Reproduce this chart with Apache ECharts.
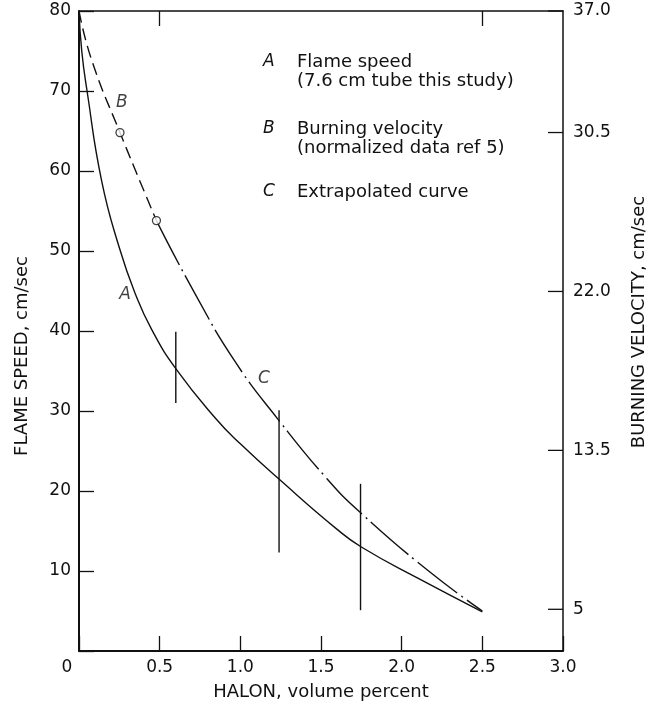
<!DOCTYPE html>
<html><head><meta charset="utf-8">
<script src="https://cdn.jsdelivr.net/npm/echarts@6/dist/echarts.min.js"></script>
<style>html,body{margin:0;padding:0;background:#fff}#c{width:650px;height:704px}</style>
</head><body><div id="c"></div>
<script>
// ---- data ----
const curveAX = [0, 0.017, 0.05, 0.14, 0.25, 0.35, 0.45, 0.6, 0.85, 1.0, 1.25, 1.6, 1.75, 2.1, 2.5];
const curveAY = [80, 75, 70, 58.8, 50.4, 44.6, 40.2, 35.3, 29.0, 25.9, 21.3, 15.2, 13.0, 9.1, 4.9];
const curveBX = [0, 0.078, 0.254, 0.48];
const curveBY = [80, 73.9, 64.8, 53.8];
const pointsBX = [0.254, 0.48];
const pointsBY = [64.8, 53.8];
const curveCX = [0.48, 0.718, 0.97, 1.24, 1.534, 1.744, 2.173, 2.5];
const curveCY = [53.8, 44.7, 36.1, 28.8, 21.6, 17.3, 9.9, 5.0];
const errX = [0.6, 1.24, 1.745];
const errLow = [31, 12.3, 5.1];
const errHigh = [39.9, 30.1, 20.9];
const rightTickValues = [5, 13.5, 22, 30.5, 37];
const rightTickLabels = ['5', '13.5', '22.0', '30.5', '37.0'];
const curveLabelNames = ['A', 'B', 'C'];
const curveLabelX = [0.285, 0.266, 1.146];
const curveLabelY = [44.5, 68.6, 34];
const legendKeys = ['A', 'B', 'C'];
const legendLines = [['Flame speed', '(7.6 cm tube this study)'], ['Burning velocity', '(normalized data ref 5)'], ['Extrapolated curve']];

const zip = (xs, ys) => xs.map((x, i) => [x, ys[i]]);
const FONT = 'DejaVu Sans';
const INK = '#111';

const chart = echarts.init(document.getElementById('c'), null, {renderer: 'canvas'});

const legendGraphics = [];
const legendKeyY = [63, 130, 193];
legendKeys.forEach((k, i) => {
  legendGraphics.push({type: 'text', left: 263, top: legendKeyY[i] - 10,
    style: {text: k, font: 'italic 17px ' + FONT, fill: INK}});
  legendLines[i].forEach((t, j) => {
    legendGraphics.push({type: 'text', left: 297, top: legendKeyY[i] - 10 + j * 19,
      style: {text: t, font: '18px ' + FONT, fill: INK}});
  });
});

const option = {
  animation: false,
  backgroundColor: '#fff',
  grid: {left: 79, right: 87, top: 11, bottom: 53, containLabel: false, outerBoundsMode: 'none'},
  xAxis: [{
    type: 'value', min: 0, max: 3, interval: 0.5, position: 'bottom',
    axisLine: {show: true, onZero: false, lineStyle: {color: INK, width: 2}},
    axisTick: {show: true, inside: true, length: 15, lineStyle: {color: INK, width: 1.3}},
    splitLine: {show: false},
    axisLabel: {margin: 8, fontSize: 17, fontFamily: FONT, color: INK,
      formatter: v => v === 0 ? '{o|0}' : v.toFixed(1),
      rich: {o: {fontSize: 17, fontFamily: FONT, color: INK, padding: [0, 24, 0, 0]}}},
    name: 'HALON, volume percent', nameLocation: 'middle', nameGap: 32, nameMoveOverlap: false,
    nameTextStyle: {fontSize: 18, fontFamily: FONT, color: INK}
  }, {
    type: 'value', min: 0, max: 3, position: 'top',
    axisLine: {show: true, onZero: false, lineStyle: {color: INK, width: 1.5}},
    axisTick: {show: true, inside: true, length: 15, customValues: [0.5, 2.5], lineStyle: {color: INK, width: 1.3}},
    axisLabel: {show: false}, splitLine: {show: false}
  }],
  yAxis: [{
    type: 'value', min: 0, max: 80, interval: 10, position: 'left',
    axisLine: {show: true, onZero: false, lineStyle: {color: INK, width: 2}},
    axisTick: {show: true, inside: true, length: 15, lineStyle: {color: INK, width: 1.3}},
    splitLine: {show: false},
    axisLabel: {margin: 8, fontSize: 17, fontFamily: FONT, color: INK, formatter: v => v === 0 ? '' : String(v)},
    name: 'FLAME SPEED, cm/sec', nameLocation: 'middle', nameGap: 48, nameMoveOverlap: false,
    nameTextStyle: {fontSize: 18, fontFamily: FONT, color: INK, padding: [0, 50, 0, 0]}
  }, {
    type: 'value', min: 2.77, max: 37, position: 'right',
    axisLine: {show: true, onZero: false, lineStyle: {color: INK, width: 1.5}},
    axisTick: {show: false},
    splitLine: {show: false},
    axisLabel: {margin: 10, fontSize: 17, fontFamily: FONT, color: INK, customValues: rightTickValues,
      formatter: v => rightTickLabels[rightTickValues.indexOf(v)] || ''},
    name: 'BURNING VELOCITY, cm/sec', nameLocation: 'middle', nameGap: 67, nameMoveOverlap: false,
    nameTextStyle: {fontSize: 18, fontFamily: FONT, color: INK, padding: [0, 0, 0, 18]}
  }],
  graphic: legendGraphics,
  series: [{
    type: 'line', xAxisIndex: 0, yAxisIndex: 0, data: zip(curveAX, curveAY),
    smooth: 0.5, symbol: 'none', silent: true,
    lineStyle: {color: INK, width: 1.4}
  }, {
    type: 'line', xAxisIndex: 0, yAxisIndex: 0, data: zip(curveBX, curveBY),
    smooth: 0.5, symbol: 'none', silent: true,
    lineStyle: {color: INK, width: 1.4, type: [12, 6]}
  }, {
    type: 'line', xAxisIndex: 0, yAxisIndex: 0, data: zip(curveCX, curveCY),
    smooth: 0.5, symbol: 'none', silent: true,
    lineStyle: {color: INK, width: 1.4, type: [50, 5, 2, 5]}
  }, {
    type: 'scatter', xAxisIndex: 0, yAxisIndex: 0, data: zip(pointsBX, pointsBY),
    symbol: 'circle', symbolSize: 8, silent: true, z: 5,
    itemStyle: {color: '#fff', borderColor: INK, borderWidth: 1.3}
  }, {
    type: 'custom', xAxisIndex: 0, yAxisIndex: 0, silent: true,
    data: errX.map((x, i) => [x, errLow[i], errHigh[i]]),
    renderItem: (params, api) => {
      const p1 = api.coord([api.value(0), api.value(1)]);
      const p2 = api.coord([api.value(0), api.value(2)]);
      return {type: 'line', shape: {x1: p1[0], y1: p1[1], x2: p2[0], y2: p2[1]},
        style: {stroke: INK, lineWidth: 1.4}};
    }
  }, {
    // right-axis inward ticks, positioned through the right axis scale
    type: 'custom', xAxisIndex: 0, yAxisIndex: 1, silent: true,
    data: rightTickValues.map(v => [3, v]),
    renderItem: (params, api) => {
      const p = api.coord([api.value(0), api.value(1)]);
      return {type: 'line', shape: {x1: p[0] - 15, y1: p[1], x2: p[0], y2: p[1]},
        style: {stroke: INK, lineWidth: 1.3}};
    }
  }, {
    type: 'scatter', xAxisIndex: 0, yAxisIndex: 0, symbolSize: 0, silent: true,
    data: curveLabelNames.map((n, i) => ({name: n, value: [curveLabelX[i], curveLabelY[i]]})),
    label: {show: true, position: 'inside', formatter: p => p.name, fontStyle: 'italic',
      fontSize: 17, fontFamily: FONT, color: INK}
  }]
};
chart.setOption(option);
</script></body></html>
